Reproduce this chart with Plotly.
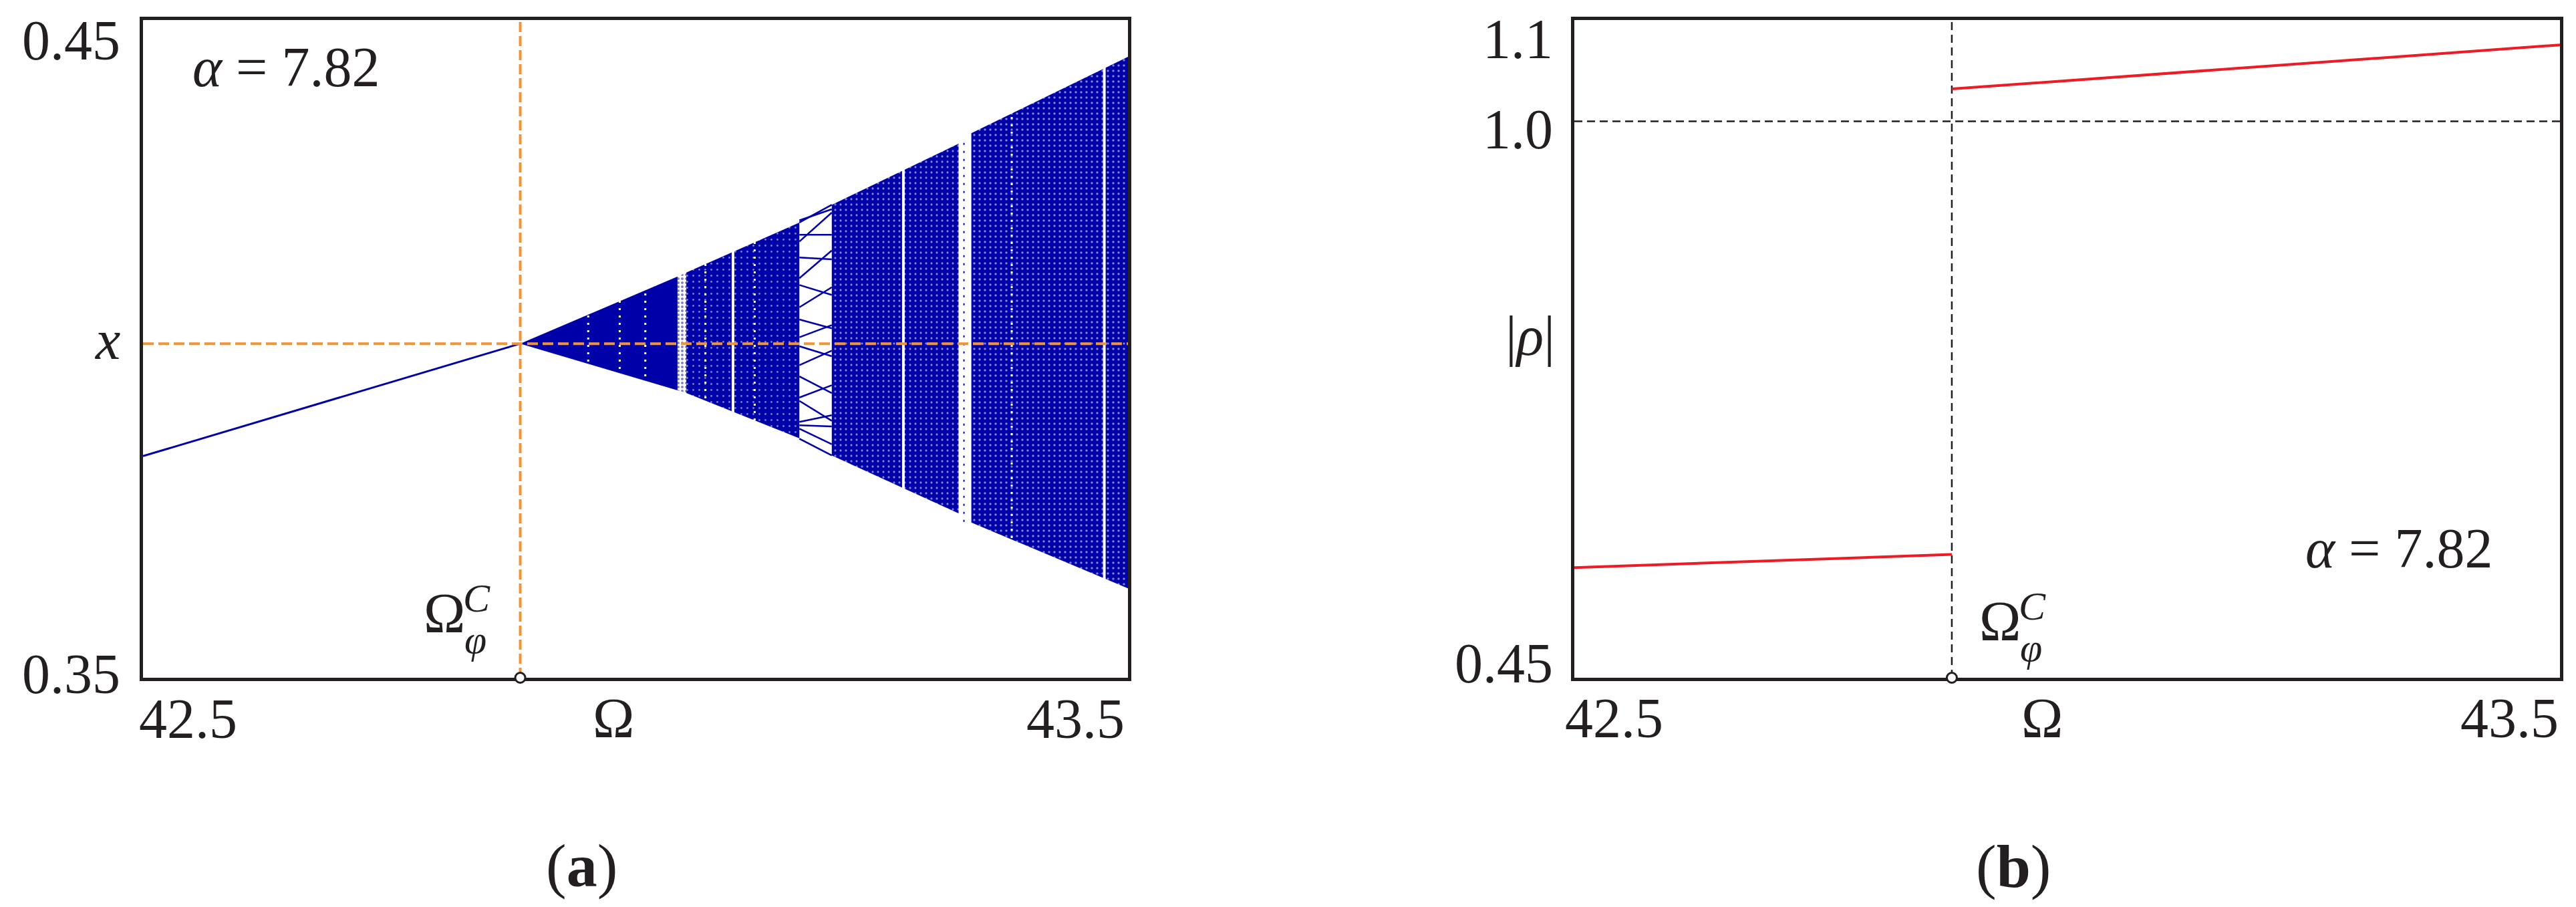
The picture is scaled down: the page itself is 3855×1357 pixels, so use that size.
import plotly.graph_objects as go

W, H = 3855, 1357
FONT = "Liberation Serif"
TXT = "#231F20"
BLUE = "#0000A8"
ORANGE = "#F39433"
RED = "#ED1C24"

# ---------------- data ----------------
omega_c = 42.883          # Omega_phi^C
x_fixed = 0.4008          # level of the fixed point at Omega_phi^C

# (a) stable branch before the bifurcation
stable_omega = [42.5, 42.883]
stable_x = [0.3837, 0.4008]

# (a) chaotic band pieces: omega, upper edge, lower edge
bandA_omega = [42.883, 43.0427]
bandA_up = [0.4008, 0.4110]
bandA_lo = [0.4008, 0.3937]

gapA_omega = [43.0427, 43.0516]
gapA_up = [0.4110, 0.4116]
gapA_lo = [0.3937, 0.3933]

bandB_omega = [43.0516, 43.1664]
bandB_up = [0.4116, 0.4192]
bandB_lo = [0.3933, 0.3864]

bandC_omega = [43.1993, 43.328]
bandC_up = [0.4219, 0.4312]
bandC_lo = [0.3838, 0.3750]

bandD_omega = [43.341, 43.5]
bandD_up = [0.4328, 0.4444]
bandD_lo = [0.3736, 0.3636]

# (a) periodic window: branch values at its left / right edge
window_omega = [43.1664, 43.1993]
window_left = [0.41921, 0.41954, 0.41633, 0.41735, 0.41389, 0.41074, 0.40972,
               0.40633, 0.40447, 0.40176, 0.40041, 0.39753, 0.39583, 0.39261,
               0.39210, 0.38889, 0.38838, 0.38787, 0.38635]
window_right = [0.42192, 0.42124, 0.42073, 0.41735, 0.41362, 0.41497, 0.40820,
                0.40938, 0.40312, 0.40362, 0.39888, 0.39973, 0.39329, 0.39448,
                0.38906, 0.38991, 0.38821, 0.38550, 0.38381]

# (a) white streaks inside the band
streak_solid = [43.099, 43.272, 43.476]
streak_dotted = [42.952, 42.984, 43.010, 43.071, 43.121, 43.382]

# (a) sparse points inside the narrow gap near 43.33
gapB_omega = [43.3335, 43.3335]
gapB_x = [0.3737, 0.4320]

# (b) modulus of the multiplier
rho_left_omega = [42.5, 42.883]
rho_left = [0.5589, 0.5718]
rho_right_omega = [42.883, 43.5]
rho_right = [1.0319, 1.0754]
rho_unit = 1.0

# axes
x_range = [42.5, 43.5]
ya_range = [0.35, 0.45]
yb_range = [0.45, 1.1]
xa_ticks = [42.5, 43.5]
xa_text = ["42.5", "43.5"]
ya_ticks = [0.35, 0.45]
ya_text = ["0.35", "0.45"]
yb_ticks = [0.45, 1.0, 1.1]
yb_text = ["0.45", "1.0", "1.1"]

# ---------------- figure ----------------
fig = go.Figure()


def poly(om, up, lo):
    return list(om) + list(om)[::-1], list(up) + list(lo)[::-1]


# band pieces
for om, up, lo, pat in [
    (bandA_omega, bandA_up, bandA_lo, None),
    (bandB_omega, bandB_up, bandB_lo, dict(shape=".", fgcolor="white", bgcolor=BLUE, size=9, solidity=0.08)),
    (bandC_omega, bandC_up, bandC_lo, dict(shape=".", fgcolor="white", bgcolor=BLUE, size=8, solidity=0.13)),
    (bandD_omega, bandD_up, bandD_lo, dict(shape=".", fgcolor="white", bgcolor=BLUE, size=8, solidity=0.15)),
]:
    px_, py_ = poly(om, up, lo)
    kw = dict(x=px_, y=py_, fill="toself", mode="lines", line=dict(width=0, color=BLUE),
              fillcolor=BLUE, hoverinfo="skip", showlegend=False, xaxis="x", yaxis="y")
    if pat:
        kw["fillpattern"] = pat
    fig.add_trace(go.Scatter(**kw))

# sparse gap strip
gx, gy = poly(gapA_omega, gapA_up, gapA_lo)
fig.add_trace(go.Scatter(x=gx, y=gy, fill="toself", mode="lines", line=dict(width=0, color=BLUE),
                         fillcolor="white",
                         fillpattern=dict(shape=".", fgcolor=BLUE, bgcolor="white", size=6, solidity=0.35),
                         hoverinfo="skip", showlegend=False, xaxis="x", yaxis="y"))

# sparse dotted trace inside the narrow gap
fig.add_trace(go.Scatter(x=gapB_omega, y=gapB_x, mode="lines",
                         line=dict(color=BLUE, width=2, dash="3px,9px"),
                         hoverinfo="skip", showlegend=False, xaxis="x", yaxis="y"))

# white streaks (drawn over full height; invisible outside the band)
sx, sy = [], []
for o in streak_solid:
    sx += [o, o, None]
    sy += [ya_range[0], ya_range[1], None]
fig.add_trace(go.Scatter(x=sx, y=sy, mode="lines", line=dict(color="white", width=4),
                         hoverinfo="skip", showlegend=False, xaxis="x", yaxis="y"))
dx, dy = [], []
for o in streak_dotted:
    dx += [o, o, None]
    dy += [ya_range[0], ya_range[1], None]
fig.add_trace(go.Scatter(x=dx, y=dy, mode="lines", line=dict(color="white", width=3, dash="3px,8px"),
                         hoverinfo="skip", showlegend=False, xaxis="x", yaxis="y"))

# periodic window branches
wx, wy = [], []
for a, b in zip(window_left, window_right):
    wx += [window_omega[0], window_omega[1], None]
    wy += [a, b, None]
fig.add_trace(go.Scatter(x=wx, y=wy, mode="lines", line=dict(color=BLUE, width=2.5),
                         hoverinfo="skip", showlegend=False, xaxis="x", yaxis="y"))

# stable branch
fig.add_trace(go.Scatter(x=stable_omega, y=stable_x, mode="lines", line=dict(color=BLUE, width=3),
                         hoverinfo="skip", showlegend=False, xaxis="x", yaxis="y"))

# orange guides
fig.add_trace(go.Scatter(x=x_range, y=[x_fixed, x_fixed], mode="lines",
                         line=dict(color=ORANGE, width=4, dash="16px,7px"),
                         hoverinfo="skip", showlegend=False, xaxis="x", yaxis="y"))
fig.add_trace(go.Scatter(x=[omega_c, omega_c], y=ya_range, mode="lines",
                         line=dict(color=ORANGE, width=4, dash="15px,6px"),
                         hoverinfo="skip", showlegend=False, xaxis="x", yaxis="y"))

# (b) dashed guides
fig.add_trace(go.Scatter(x=x_range, y=[rho_unit, rho_unit], mode="lines",
                         line=dict(color=TXT, width=2.5, dash="12px,7px"),
                         hoverinfo="skip", showlegend=False, xaxis="x2", yaxis="y2"))
fig.add_trace(go.Scatter(x=[omega_c, omega_c], y=yb_range, mode="lines",
                         line=dict(color=TXT, width=2.5, dash="12px,7px"),
                         hoverinfo="skip", showlegend=False, xaxis="x2", yaxis="y2"))

# (b) red curves
fig.add_trace(go.Scatter(x=rho_left_omega, y=rho_left, mode="lines", line=dict(color=RED, width=4),
                         hoverinfo="skip", showlegend=False, xaxis="x2", yaxis="y2"))
fig.add_trace(go.Scatter(x=rho_right_omega, y=rho_right, mode="lines", line=dict(color=RED, width=4),
                         hoverinfo="skip", showlegend=False, xaxis="x2", yaxis="y2"))

# open circles at Omega_phi^C on both x axes
for xa, ya, yr in [("x", "y", ya_range), ("x2", "y2", yb_range)]:
    fig.add_trace(go.Scatter(x=[omega_c], y=[yr[0]], mode="markers", cliponaxis=False,
                             marker=dict(symbol="circle", size=15, color="white",
                                         line=dict(color=TXT, width=3)),
                             hoverinfo="skip", showlegend=False, xaxis=xa, yaxis=ya))

# ---------------- layout ----------------
top_px, bot_px = 22, 1006
ydom = [(H - bot_px) / H, (H - top_px) / H]
ax_common = dict(showgrid=False, zeroline=False, showticklabels=False, ticks="",
                 showline=True, mirror=True, linecolor=TXT, linewidth=5, layer="below traces")

fig.update_layout(
    width=W, height=H,
    margin=dict(l=0, r=0, t=0, b=0, autoexpand=False),
    paper_bgcolor="white", plot_bgcolor="white",
    showlegend=False,
    xaxis=dict(domain=[206 / W, 1680 / W], range=x_range, **ax_common),
    yaxis=dict(domain=ydom, range=ya_range, **ax_common),
    xaxis2=dict(domain=[2348 / W, 3823 / W], range=x_range, anchor="y2", **ax_common),
    yaxis2=dict(domain=ydom, range=yb_range, anchor="x2", **ax_common),
)

anns = []


def ann(text, xpx, ypx, size, xanchor="center"):
    anns.append(dict(text=text, x=xpx / W, y=1 - ypx / H, xref="paper", yref="paper",
                     xanchor=xanchor, yanchor="middle", showarrow=False,
                     font=dict(family=FONT, size=size, color=TXT)))


# tick labels, panel (a)
ya_label_px = {0.35: 1001, 0.45: 52}
for v, t in zip(ya_ticks, ya_text):
    ann(t, 174, ya_label_px[v], 84, "right")
xa_label_px = {42.5: (198, "left"), 43.5: (1677, "right")}
for v, t in zip(xa_ticks, xa_text):
    ann(t, xa_label_px[v][0], 1067, 84, xa_label_px[v][1])
# tick labels, panel (b)
yb_label_px = {0.45: 984, 1.0: 186, 1.1: 50}
for v, t in zip(yb_ticks, yb_text):
    ann(t, 2318, yb_label_px[v], 84, "right")
xb_label_px = {42.5: (2332, "left"), 43.5: (3823, "right")}
for v, t in zip(xa_ticks, xa_text):
    ann(t, xb_label_px[v][0], 1066, 84, xb_label_px[v][1])

# axis titles
ann("<i>x</i>", 152, 500, 84)
ann("Ω", 910, 1066, 84)
ann("|<i>ρ</i>|", 2282, 494, 84)
ann("Ω", 3048, 1066, 84)

# parameter labels
ann("<i>α</i> = 7.82", 278, 93, 84, "left")
ann("<i>α</i> = 7.82", 3440, 812, 84, "left")

# Omega_phi^C markers
for ox, oy in [(657, 909), (2985, 921)]:
    ann("Ω", ox, oy, 84)
    ann("<i>C</i>", ox + 48, oy - 22, 60)
    ann("<i>φ</i>", ox + 46, oy + 40, 60)

# panel letters
ann("(<b>a</b>)", 862, 1287, 92)
ann("(<b>b</b>)", 3005, 1288, 92)

fig.update_layout(annotations=anns)
fig.write_html("out.html")
